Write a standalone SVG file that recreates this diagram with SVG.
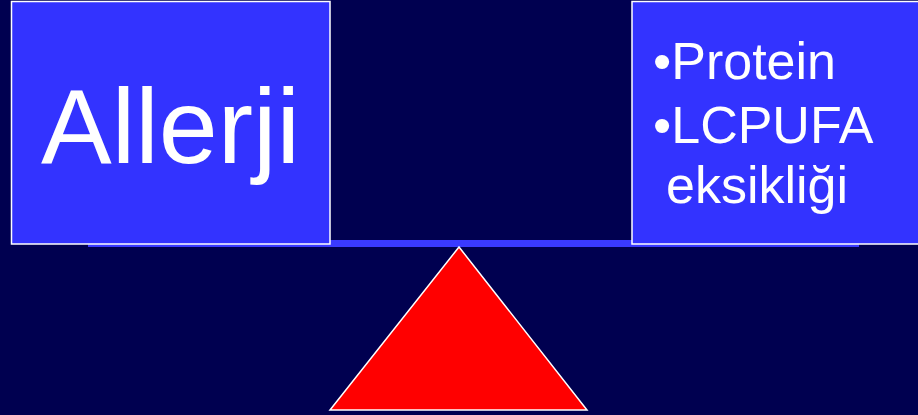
<svg xmlns="http://www.w3.org/2000/svg" width="918" height="415" viewBox="0 0 918 415">
<style>
.box{fill:#3333ff;stroke:#ffffff;stroke-width:1.5}
.t{font-family:"Liberation Sans",Arial,sans-serif;fill:#ffffff}
</style>
<rect x="0" y="0" width="918" height="415" fill="#000050"/>
<g id="beam"><rect x="88" y="240" width="771" height="7" fill="#3a3aff"/></g>
<g id="fulcrum"><polygon points="459,247 587,410 330,410" fill="#ff0000" stroke="#ffffff" stroke-width="1.5"/></g>
<g id="allerji">
<rect class="box" x="11.5" y="1.5" width="318.5" height="242.5"/>
<text class="t" x="41" y="163" font-size="106">Allerji</text>
</g>
<g id="protein">
<rect class="box" x="632" y="1.5" width="290" height="242.5"/>
<text class="t" x="653" y="79" font-size="52">•Protein</text>
<text class="t" x="653" y="143" font-size="52">•LCPUFA</text>
<text class="t" x="666" y="203" font-size="52">eksikliği</text>
</g>
</svg>
